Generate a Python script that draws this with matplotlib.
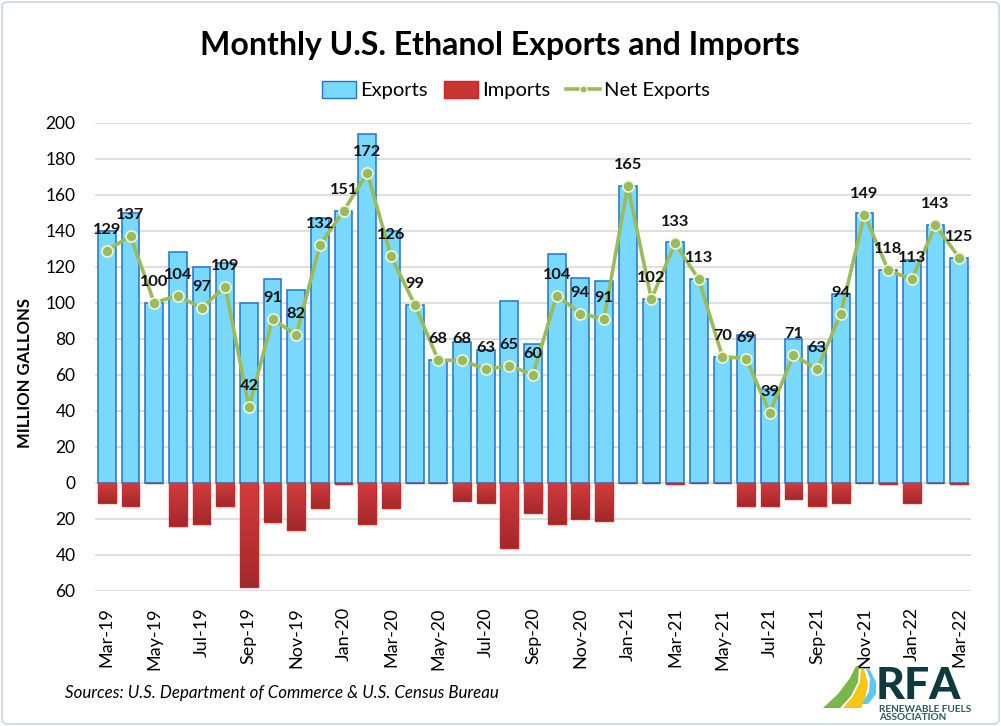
import matplotlib
matplotlib.use("Agg")
import matplotlib.pyplot as plt
import numpy as np
from matplotlib.patches import Patch, FancyBboxPatch, Polygon
from matplotlib.lines import Line2D
from matplotlib.colors import LinearSegmentedColormap

plt.rcParams['font.family'] = ['Lato', 'DejaVu Sans']

months = ["Mar-19", "Apr-19", "May-19", "Jun-19", "Jul-19", "Aug-19", "Sep-19", "Oct-19",
          "Nov-19", "Dec-19", "Jan-20", "Feb-20", "Mar-20", "Apr-20", "May-20", "Jun-20",
          "Jul-20", "Aug-20", "Sep-20", "Oct-20", "Nov-20", "Dec-20", "Jan-21", "Feb-21",
          "Mar-21", "Apr-21", "May-21", "Jun-21", "Jul-21", "Aug-21", "Sep-21", "Oct-21",
          "Nov-21", "Dec-21", "Jan-22", "Feb-22", "Mar-22"]
exports = [140, 150, 100, 128, 120, 122, 100, 113, 107, 147, 151, 194, 140, 99, 68, 78,
           74, 101, 77, 127, 114, 112, 165, 102, 134, 113, 70, 82, 52, 80, 76, 105,
           150, 118, 124, 143, 125]
imports = [11, 13, 0.4, 24, 23, 13, 58, 22, 26, 14, 0.8, 23, 14, 0.3, 0.4, 10,
           11, 36, 17, 23, 20, 21, 0.3, 0.3, 0.8, 0.3, 0.3, 13, 13, 9, 13, 11,
           0.3, 0.8, 11, 0.3, 0.8]
net_exports = [129, 137, 100, 104, 97, 109, 42, 91, 82, 132, 151, 172, 126, 99, 68, 68,
               63, 65, 60, 104, 94, 91, 165, 102, 133, 113, 70, 69, 39, 71, 63, 94,
               149, 118, 113, 143, 125]
yticks = [-60, -40, -20, 0, 20, 40, 60, 80, 100, 120, 140, 160, 180, 200]

W, H = 1001, 726
fig = plt.figure(figsize=(W / 100, H / 100), dpi=100)
fig.patch.set_facecolor('white')

# figure border
fig.patches.append(FancyBboxPatch((2 / W, 2 / H), 1 - 4 / W, 1 - 4 / H,
                                  boxstyle="round,pad=0,rounding_size=0.006",
                                  transform=fig.transFigure, fill=False,
                                  edgecolor='#C9D6E8', linewidth=1.2))

ax = fig.add_axes([95 / W, 1 - 590.7 / H, 876 / W, (590.7 - 122.7) / H])
x = np.arange(len(months))

ax.set_ylim(-60, 200)
ax.set_xlim(-0.5, len(months) - 0.5)
ax.set_yticks(yticks)
ax.set_yticklabels([str(abs(v)) for v in yticks], fontsize=12.5)
ax.grid(axis='y', color='#D9D9D9', linewidth=1.2, zorder=0)
ax.set_axisbelow(True)
for s in ax.spines.values():
    s.set_visible(False)
ax.tick_params(axis='both', length=0)
ax.tick_params(axis='y', pad=14)

ax.bar(x, exports, width=0.75, color='#79D9FC', edgecolor='#1F74CC', linewidth=1.1, zorder=2)
neg = [-v for v in imports]
ibars = ax.bar(x, neg, width=0.75, color='#C73535', edgecolor='#E01F1F', linewidth=1.0, zorder=2)

# vertical gradient on import bars
cmap = LinearSegmentedColormap.from_list('imp', ['#D53C3C', '#A3282B'])
grad = np.linspace(0, 1, 256).reshape(-1, 1)
for b in ibars:
    bx, by = b.get_x(), b.get_y()
    bw, bh = b.get_width(), b.get_height()
    if abs(bh) < 1.5:
        continue
    im = ax.imshow(grad, cmap=cmap, aspect='auto', origin='upper',
                   extent=[bx, bx + bw, by + bh, by], zorder=2.1)
    im.set_clip_path(b)
ax.set_xlim(-0.5, len(months) - 0.5)
ax.set_ylim(-60, 200)

ax.plot(x, net_exports, color='#9BBB59', linewidth=2.6, marker='o', markersize=8,
        markerfacecolor='#9BBB59', markeredgecolor='#EEF3E0', markeredgewidth=1.2, zorder=4)
for xi, v in zip(x, net_exports):
    ax.annotate(str(v), (xi, v), xytext=(0, 15), textcoords='offset points',
                ha='center', va='center', fontsize=11.8, fontweight='bold', color='#111111', zorder=5)

ax.set_xticks(x[::2])
ax.set_xticklabels(months[::2], rotation=90, fontsize=13)
ax.tick_params(axis='x', pad=12)

fig.text(25 / W, 1 - 373 / H, 'MILLION GALLONS', rotation=90, ha='center', va='center',
         fontsize=12, fontweight='bold')

fig.text(500 / W, 1 - 45 / H, 'Monthly U.S. Ethanol Exports and Imports', ha='center',
         va='center', fontsize=23, fontweight='bold')

handles = [Patch(facecolor='#79D9FC', edgecolor='#1F74CC', label='Exports'),
           Patch(facecolor='#C73535', edgecolor='#E01F1F', label='Imports'),
           Line2D([0], [0], color='#9BBB59', linewidth=2.6, marker='o', markersize=5,
                  markerfacecolor='#9BBB59', markeredgecolor='#EEF3E0', label='Net Exports')]
fig.legend(handles=handles, loc='center', bbox_to_anchor=(516 / W, 1 - 90 / H), ncol=3,
           frameon=False, fontsize=14.5, handlelength=1.7, handleheight=0.9,
           handletextpad=0.2, columnspacing=0.8)

fig.text(65 / W, 1 - 693 / H, 'Sources: U.S. Department of Commerce & U.S. Census Bureau',
         ha='left', va='center', fontsize=12.2, style='italic')

# RFA logo
tp = lambda pts: [(px / W, 1 - py / H) for px, py in pts]
fig.patches.append(Polygon(tp([(823, 708), (838, 694), (850, 678), (856, 666), (859, 667),
                               (858, 682), (851, 696), (840, 708)]),
                           closed=True, transform=fig.transFigure, facecolor='#7AB648', edgecolor='none'))
fig.patches.append(Polygon(tp([(843, 708), (853, 696), (860, 682), (861, 668), (864, 669),
                               (868, 684), (865, 699), (861, 708)]),
                           closed=True, transform=fig.transFigure, facecolor='#F5C518', edgecolor='none'))
fig.patches.append(Polygon(tp([(862, 704), (869, 692), (870, 679), (866, 668), (870, 670),
                               (876, 682), (876, 694), (868, 704)]),
                           closed=True, transform=fig.transFigure, facecolor='#5BC8F0', edgecolor='none'))
fig.text(876 / W, 1 - 686 / H, 'RFA', ha='left', va='center', fontsize=32, fontweight='black',
         color='#0E3A3E')
fig.text(879 / W, 1 - 709 / H, 'RENEWABLE FUELS', ha='left', va='center', fontsize=7.2,
         fontweight='bold', color='#2A5A5E')
fig.text(879 / W, 1 - 718 / H, 'ASSOCIATION', ha='left', va='center', fontsize=7.2,
         fontweight='bold', color='#2A5A5E')

fig.savefig('out.png', dpi=100)
